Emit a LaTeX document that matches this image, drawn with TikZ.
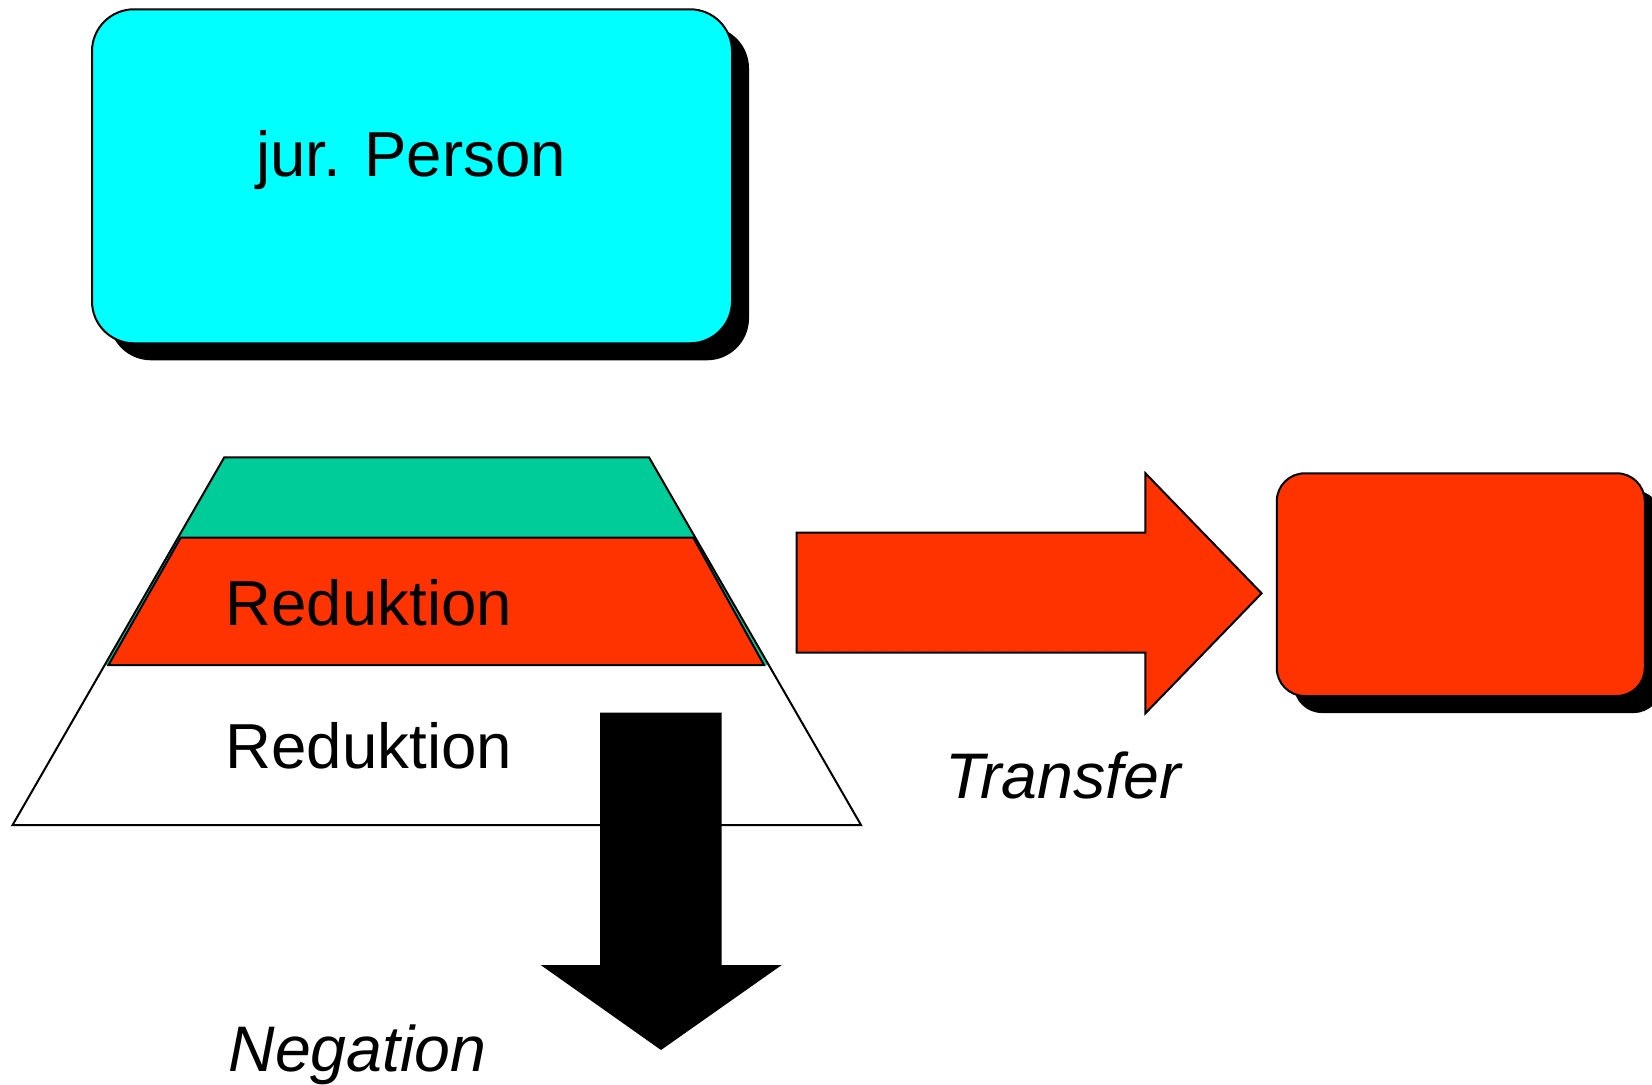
\documentclass[tikz,border=0pt]{standalone}
\usepackage{fontspec}
\setmainfont{Liberation Sans}
\usetikzlibrary{shadows}
\definecolor{cyanbox}{HTML}{00FFFF}
\definecolor{redfill}{HTML}{FF3300}
\definecolor{greenfill}{HTML}{00CC99}
\begin{document}
\begin{tikzpicture}[x=0.5pt,y=-0.5pt,
  lbl/.style={font=\fontsize{31.8}{38}\selectfont, inner sep=0pt, anchor=base},
  ilbl/.style={lbl, font=\fontsize{32.2}{38}\selectfont\itshape},
  outline/.style={draw=black, line width=1pt, line join=miter},
  shadowbox/.style={outline, inner sep=0pt,
    drop shadow={fill=black, opacity=1, shadow xshift=8.5pt, shadow yshift=-8.5pt}}
]
\useasboundingbox (0,0) rectangle (1652,1085);

% top box
\node[shadowbox, fill=cyanbox, rounded corners=21pt,
      minimum width=320pt, minimum height=167pt] (jp) at (412,176.3) {};
\node[lbl] (jptext) at (411,176.7) {jur. Person};

% trapezoid layers
\fill[greenfill] (224.3,457.3) -- (649,457.3) -- (768.8,665) -- (104.7,665) -- cycle;
\filldraw[fill=redfill, outline] (180.7,537.7) -- (693.3,537.7) -- (764,665) -- (108.5,665) -- cycle;
\draw[outline] (224.3,457.3) -- (649,457.3) -- (861,825) -- (12.6,825) -- cycle;
\node[lbl] (red1) at (368.8,625) {Reduktion};
\node[lbl] (red2) at (368.8,768.3) {Reduktion};

% transfer arrow
\filldraw[fill=redfill, outline] (796.7,532.7) -- (1145.4,532.7) -- (1145.4,473.3)
  -- (1261.6,593.3) -- (1145.4,713.3) -- (1145.4,652.7) -- (796.7,652.7) -- cycle;
\node[ilbl] (transfer) at (1063,798.3) {Transfer};

% right box
\node[shadowbox, fill=redfill, rounded corners=14pt,
      minimum width=184pt, minimum height=111.35pt] (target) at (1460.75,584.65) {};

% negation arrow
\fill[black] (600,712.7) -- (721.7,712.7) -- (721.7,965) -- (781.7,965)
  -- (661,1050) -- (540.7,965) -- (600,965) -- cycle;
\node[ilbl] (negation) at (357.5,1071.7) {Negation};
\end{tikzpicture}
\end{document}
